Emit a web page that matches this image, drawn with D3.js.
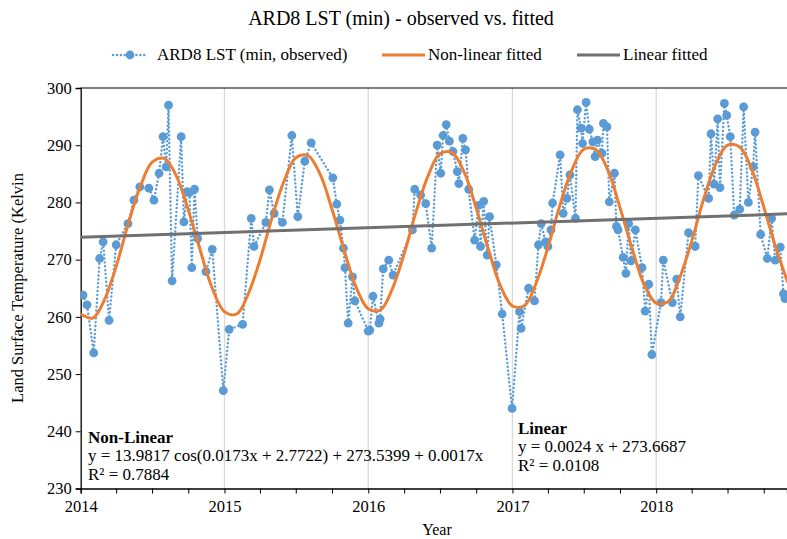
<!DOCTYPE html>
<html lang="en">
<head>
  <meta charset="utf-8">
  <title>ARD8 LST (min) - observed vs. fitted</title>
  <style>
    html,body { margin:0; padding:0; background:#fff; overflow:hidden; }
    svg { display:block; }
    svg text { font-family:'Liberation Serif','Times New Roman',Times,'DejaVu Serif',serif; fill:#000; }
    .axis path, .axis line { stroke:#000; }
    .axis text { font-size:16.5px; }
  </style>
  <script src="https://d3js.org/d3.v7.min.js"></script>
</head>
<body>
<svg width="787" height="539"></svg>
<script>
// ---- data (days since 2014-01-01, Kelvin) ----
const obsDays = [6,16,33,48,57,72,90,120,135,150,173,186,199,209,217,223,232,255,262,270,276,282,289,297,318,334,362,
  377,411,433,440,470,479,491,512,536,551,569,585,640,650,658,667,671,679,690,696,730,
  734,742,757,760,768,782,793,842,848,863,876,891,905,914,920,928,936,945,956,960,970,977,985,1000,1010,1015,1023,1032,1038,1055,1070,1095,
  1114,1118,1137,1152,1162,1169,1180,1186,1194,1198,1217,1225,1234,1242,1256,1261,1270,1274,1283,1291,1300,1306,1312,1323,1327,1336,1342,1355,1360,1364,1377,1384,1391,1397,1408,1425,1433,1442,1450,
  1473,1479,1502,1513,1522,1543,1560,1568,1594,1600,1608,1617,1623,1634,1640,1649,1659,1673,1683,1695,1707,1712,1726,1743,1754,1763,1776,1784,1788];
const obsLST = [263.8,262.1,253.7,270.2,273.1,259.4,272.6,276.3,280.4,282.7,282.5,280.4,285.1,291.5,286.2,297.0,266.3,291.5,276.6,281.9,281.7,268.6,282.3,273.7,267.9,271.8,247.1,
  257.8,258.7,277.2,272.3,276.5,282.2,278.1,276.5,291.7,277.5,287.2,290.4,284.3,279.7,276.9,272.0,268.6,258.9,267.0,262.8,257.5,
  257.7,263.6,258.9,259.6,268.4,269.9,267.3,275.2,282.3,281.3,279.8,272.0,290.0,285.1,291.7,293.6,290.7,288.9,285.4,283.3,291.2,289.2,282.3,273.4,279.5,272.3,280.2,270.8,277.5,269.1,260.5,244.0,
  260.9,258.0,265.0,262.8,272.6,276.3,273.1,272.3,275.2,279.9,288.3,278.1,280.7,284.8,277.2,296.2,293.0,290.3,297.5,292.8,290.6,288.0,290.9,288.6,293.8,293.2,280.1,285.1,275.8,275.2,270.4,267.6,276.3,269.8,275.2,268.6,261.0,265.7,253.4,
  262.5,269.9,262.5,266.6,260.0,274.7,272.3,284.7,280.7,292.0,283.2,294.6,282.6,297.3,295.2,291.5,277.8,278.8,296.7,280.0,286.2,292.3,274.4,270.2,277.2,269.9,272.2,264.0,263.2];

// non-linear fitted curve, monthly (Jan 2014 .. Dec 2018)
const fitLST = [260.5,259.8,262.8,268.8,276.1,282.7,287.0,287.7,284.6,278.7,271.5,265.0,
  260.9,260.5,263.8,269.9,277.2,283.7,287.8,288.2,284.9,278.8,271.6,265.2,
  261.4,261.2,264.7,271.0,278.3,284.7,288.5,288.7,285.2,279.0,271.8,265.5,
  261.9,262.0,265.7,272.1,279.4,285.7,289.3,289.2,285.5,279.1,271.9,265.7,
  262.4,262.7,266.7,273.2,280.5,286.7,290.0,289.7,285.7,279.2,272.0,266.0];

// linear fitted (end points)
const linDays = [0, 1793];
const linLST = [273.9, 278.0];

const yTicks = [230,240,250,260,270,280,290,300];
const xYears = [2014,2015,2016,2017,2018];

// ---- layout ----
const svg = d3.select("svg");
const L = 80.7, R = 787, T = 88, B = 488.5;
const t0 = new Date(Date.UTC(2014,0,1));
const day = d => d3.utcDay.offset(t0, d);

const x = d3.scaleUtc().domain([t0, day(1793)]).range([L, R]);
const y = d3.scaleLinear().domain([230, 300]).range([B, T]);

svg.append("clipPath").attr("id","plot")
  .append("rect").attr("x",L).attr("y",T-6).attr("width",R-L).attr("height",B-T+12);

// vertical year gridlines
svg.append("g").selectAll("line")
  .data(xYears.slice(1))
  .join("line")
    .attr("x1", d => x(new Date(Date.UTC(d,0,1))))
    .attr("x2", d => x(new Date(Date.UTC(d,0,1))))
    .attr("y1", T).attr("y2", B)
    .attr("stroke", "#d9d9d9").attr("stroke-width", 1.3);

// top border
svg.append("line").attr("x1",L).attr("x2",R).attr("y1",T).attr("y2",T)
  .attr("stroke","#000").attr("stroke-width",1.2);

// axes
const xAxis = d3.axisBottom(x)
  .tickValues(d3.utcMonth.every(3).range(t0, day(1794)))
  .tickSize(5)
  .tickFormat(d => d.getUTCMonth() === 0 ? d.getUTCFullYear() : "");
svg.append("g").attr("class","axis").attr("transform",`translate(0,${B})`)
  .call(xAxis)
  .call(g => g.attr("font-family", null).attr("font-size", null))
  .call(g => g.selectAll("text").attr("dy","0.95em"))
  .call(g => g.select(".domain").attr("stroke-width",1.3));

const yAxis = d3.axisLeft(y).tickValues(yTicks).tickSize(5).tickPadding(4);
svg.append("g").attr("class","axis").attr("transform",`translate(${L},0)`)
  .call(yAxis)
  .call(g => g.attr("font-family", null).attr("font-size", null))
  .call(g => g.select(".domain").attr("stroke-width",1.3));

// series
const plot = svg.append("g").attr("clip-path","url(#plot)");
const obs = obsDays.map((d,i) => ({ t: day(d), v: obsLST[i] }));

plot.append("path").datum(obs)
  .attr("fill","none").attr("stroke","#5b9bd5").attr("stroke-width",2.4)
  .attr("stroke-dasharray","0.1 3.8").attr("stroke-linecap","round")
  .attr("d", d3.line().x(d => x(d.t)).y(d => y(d.v)));

plot.append("g").selectAll("circle").data(obs).join("circle")
  .attr("cx", d => x(d.t)).attr("cy", d => y(d.v)).attr("r", 4.4)
  .attr("fill","#5b9bd5");

const fit = fitLST.map((v,i) => ({ t: d3.utcMonth.offset(t0, i), v }));
plot.append("path").datum(fit)
  .attr("fill","none").attr("stroke","#ed7d31").attr("stroke-width",3)
  .attr("d", d3.line().curve(d3.curveCatmullRom).x(d => x(d.t)).y(d => y(d.v)));

const lin = linDays.map((d,i) => ({ t: day(d), v: linLST[i] }));
plot.append("path").datum(lin)
  .attr("fill","none").attr("stroke","#707070").attr("stroke-width",3)
  .attr("d", d3.line().x(d => x(d.t)).y(d => y(d.v)));

// title
svg.append("text").attr("x",401).attr("y",25).attr("text-anchor","middle")
  .attr("font-size",20).text("ARD8 LST (min) - observed vs. fitted");

// legend
const lg = svg.append("g").attr("font-size",17);
lg.append("line").attr("x1",113).attr("x2",146).attr("y1",55).attr("y2",55)
  .attr("stroke","#5b9bd5").attr("stroke-width",2.4)
  .attr("stroke-dasharray","0.1 3.8").attr("stroke-linecap","round");
lg.append("circle").attr("cx",130).attr("cy",55).attr("r",4.4).attr("fill","#5b9bd5");
lg.append("text").attr("x",157).attr("y",60).text("ARD8 LST (min, observed)");
lg.append("line").attr("x1",382).attr("x2",425).attr("y1",55).attr("y2",55)
  .attr("stroke","#ed7d31").attr("stroke-width",3);
lg.append("text").attr("x",428).attr("y",60).text("Non-linear fitted");
lg.append("line").attr("x1",577).attr("x2",620).attr("y1",55).attr("y2",55)
  .attr("stroke","#707070").attr("stroke-width",3);
lg.append("text").attr("x",623).attr("y",60).text("Linear fitted");

// axis titles
svg.append("text").attr("x",437).attr("y",535).attr("text-anchor","middle")
  .attr("font-size",16).text("Year");
svg.append("text").attr("transform","translate(23,288) rotate(-90)")
  .attr("text-anchor","middle").attr("font-size",16.5)
  .text("Land Surface Temperature (Kelvin");

// equation annotations
const nl = svg.append("g").attr("font-size",17);
nl.append("text").attr("x",88).attr("y",443).attr("font-weight","bold").text("Non-Linear");
nl.append("text").attr("x",88).attr("y",461).text("y = 13.9817 cos(0.0173x + 2.7722) + 273.5399 + 0.0017x");
nl.append("text").attr("x",88).attr("y",480).text("R² = 0.7884");

const ln = svg.append("g").attr("font-size",17);
ln.append("text").attr("x",518).attr("y",434).attr("font-weight","bold").text("Linear");
ln.append("text").attr("x",518).attr("y",452).text("y = 0.0024 x + 273.6687");
ln.append("text").attr("x",518).attr("y",471).text("R² = 0.0108");
</script>
</body>
</html>
